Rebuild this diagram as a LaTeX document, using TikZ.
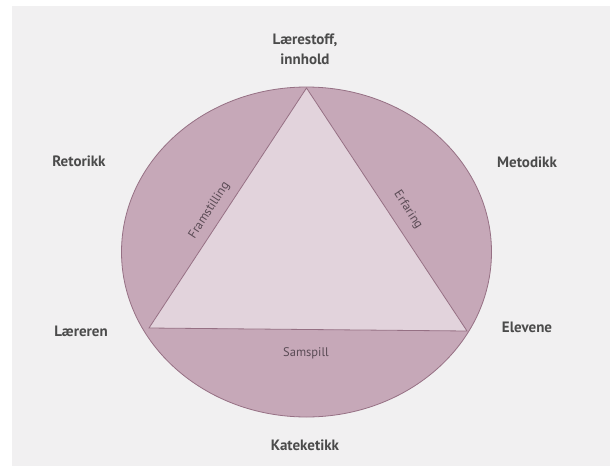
\documentclass[tikz,border=0pt]{standalone}
\usepackage{fontspec}
\setmainfont{PT Sans}
\definecolor{bandc}{RGB}{198,168,184}
\definecolor{tric}{RGB}{226,211,220}
\definecolor{edgec}{RGB}{150,112,132}
\definecolor{txtc}{RGB}{75,75,75}
\definecolor{intxt}{RGB}{90,75,85}
\definecolor{pagec}{RGB}{241,240,241}
\tikzset{
  outerlbl/.style={font=\bfseries\fontsize{15}{20}\selectfont, text=txtc, align=center, inner sep=0pt},
  innerlbl/.style={font=\fontsize{12.5}{14}\selectfont, text=intxt, inner sep=0pt},
}
\begin{document}
\begin{tikzpicture}[x=1pt,y=-1pt]
\useasboundingbox (0,0) rectangle (610,466);
\fill[white] (0,0) rectangle (610,466);
\fill[pagec] (12,6) rectangle (610,466);
% ellipse
\fill[bandc, draw=edgec, line width=0.8pt] (306.5,252) ellipse [x radius=185, y radius=165];
% triangle
\coordinate (top) at (306.5,88);
\coordinate (bl) at (149,328);
\coordinate (br) at (467,331);
\fill[tric, draw=edgec, line width=0.8pt] (top) -- (bl) -- (br) -- cycle;
% outer labels
\node[outerlbl] (laer) at (305,49) {Lærestoff,\\innhold};
\node[outerlbl] (ret) at (79,161) {Retorikk};
\node[outerlbl] (met) at (527,162) {Metodikk};
\node[outerlbl] (lae) at (81,331) {Læreren};
\node[outerlbl] (elv) at (527,327) {Elevene};
\node[outerlbl] (kat) at (305,445) {Kateketikk};
% inner labels
\node[innerlbl, rotate=57] (fram) at (209.5,210.5) {Framstilling};
\node[innerlbl, rotate=-57] (erf) at (408,210) {Erfaring};
\node[innerlbl] (sam) at (306,353) {Samspill};
\end{tikzpicture}
\end{document}
